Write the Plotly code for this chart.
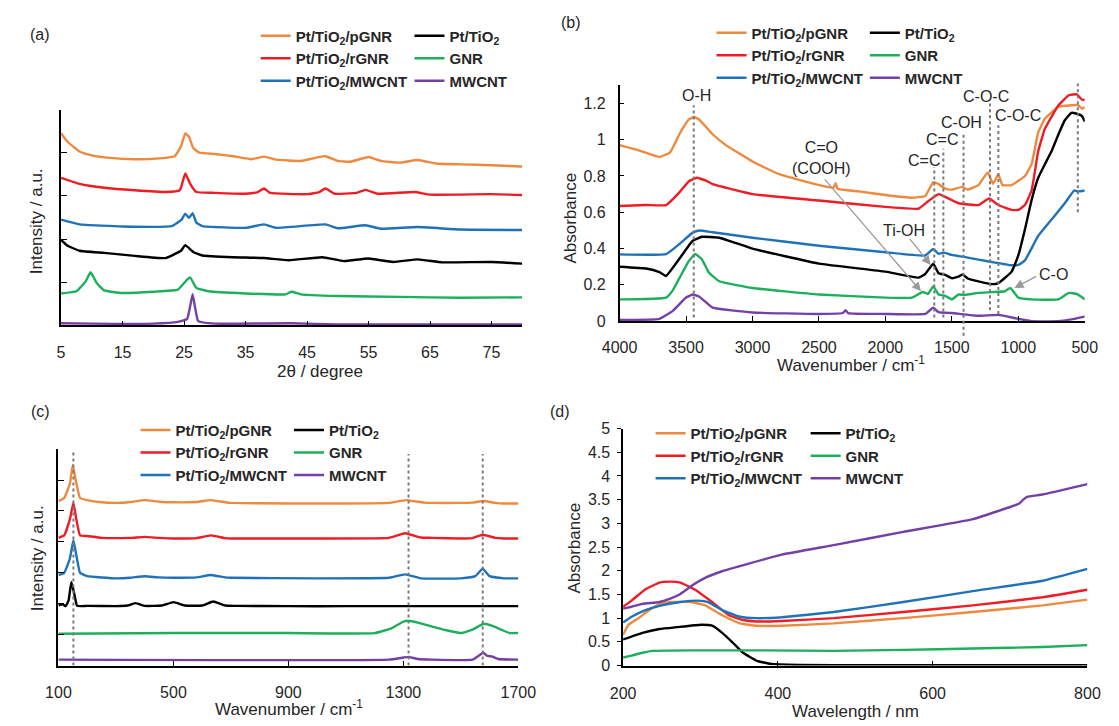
import plotly.graph_objects as go

W, H = 1119, 726
FONT = "Liberation Sans, Arial, sans-serif"
TXT = "#262626"

C_PGNR = "#EE8A3F"
C_RGNR = "#EE1C24"
C_MW = "#1F72B8"
C_TIO2 = "#000000"
C_GNR = "#1DAF5B"
C_MWCNT = "#7440A6"

N_PGNR = "Pt/TiO<sub>2</sub>/pGNR"
N_RGNR = "Pt/TiO<sub>2</sub>/rGNR"
N_MW = "Pt/TiO<sub>2</sub>/MWCNT"
N_TIO2 = "Pt/TiO<sub>2</sub>"
N_GNR = "GNR"
N_MWCNT = "MWCNT"

# ---------------- (a) XRD ----------------
A_PGNR_X = [5, 6, 8, 10, 13, 17, 21, 23.5, 24.5, 25.2, 25.8, 26.5, 27.5, 30, 33, 36, 38, 40, 44, 46, 48, 50, 52, 55, 57, 60, 63, 66, 70, 75, 80]
A_PGNR_Y = [4.45, 4.26, 4.03, 3.94, 3.88, 3.85, 3.87, 3.92, 4.15, 4.45, 4.37, 4.11, 4.0, 3.97, 3.92, 3.85, 3.91, 3.84, 3.81, 3.87, 3.92, 3.81, 3.79, 3.90, 3.81, 3.77, 3.83, 3.75, 3.73, 3.71, 3.68]
A_RGNR_X = [5, 8, 12, 17, 22, 24.3, 25.2, 26, 27, 30, 35, 37, 38, 39, 45, 47, 48, 49.5, 53, 54.5, 56.5, 62.5, 65, 75, 80]
A_RGNR_Y = [3.42, 3.28, 3.19, 3.13, 3.09, 3.13, 3.52, 3.28, 3.09, 3.07, 3.05, 3.09, 3.17, 3.07, 3.04, 3.09, 3.17, 3.05, 3.07, 3.14, 3.05, 3.09, 3.03, 3.04, 3.02]
A_MW_X = [5, 8, 15, 23, 24.6, 25.2, 25.8, 26.4, 27, 28, 35, 38, 40, 48, 50, 54.5, 57, 63, 70, 80]
A_MW_Y = [2.45, 2.34, 2.29, 2.30, 2.45, 2.59, 2.49, 2.60, 2.38, 2.30, 2.26, 2.34, 2.26, 2.34, 2.25, 2.32, 2.24, 2.28, 2.22, 2.21]
A_TIO2_X = [5, 6, 8, 12, 17, 22, 24.5, 25.2, 26.5, 28, 33, 38, 42, 47.5, 51, 55, 59, 63, 67, 75, 80]
A_TIO2_Y = [1.98, 1.85, 1.73, 1.68, 1.61, 1.56, 1.73, 1.86, 1.70, 1.62, 1.58, 1.56, 1.51, 1.58, 1.49, 1.55, 1.47, 1.53, 1.46, 1.47, 1.43]
A_GNR_X = [5, 7.5, 9, 9.8, 10.8, 12, 15, 20, 24, 25.5, 26, 27, 29, 35, 41.5, 42.5, 44, 50, 60, 70, 80]
A_GNR_Y = [0.74, 0.79, 1.02, 1.23, 0.98, 0.81, 0.75, 0.78, 0.83, 1.06, 1.11, 0.87, 0.79, 0.74, 0.72, 0.78, 0.72, 0.68, 0.66, 0.64, 0.65]
A_MWCNT_X = [5, 10, 20, 24, 25.5, 26, 26.4, 26.8, 27.3, 30, 42.5, 50, 80]
A_MWCNT_Y = [0.05, 0.04, 0.04, 0.08, 0.15, 0.45, 0.72, 0.41, 0.10, 0.04, 0.05, 0.02, 0.02]
A_XTICKS = [5, 15, 25, 35, 45, 55, 65, 75]

# ---------------- (b) FT-IR ----------------
B_PGNR_X = [4000, 3850, 3700, 3620, 3550, 3480, 3440, 3400, 3300, 3200, 3000, 2800, 2500, 2390, 2375, 2360, 2200, 2000, 1800, 1700, 1640, 1600, 1550, 1500, 1420, 1380, 1300, 1230, 1190, 1150, 1120, 1050, 950, 900, 850, 800, 700, 600, 550, 520, 500]
B_PGNR_Y = [0.97, 0.94, 0.905, 0.93, 1.03, 1.11, 1.125, 1.11, 1.03, 0.97, 0.88, 0.81, 0.75, 0.735, 0.76, 0.73, 0.715, 0.695, 0.68, 0.69, 0.766, 0.755, 0.73, 0.725, 0.74, 0.725, 0.75, 0.82, 0.757, 0.81, 0.75, 0.75, 0.80, 0.865, 1.04, 1.115, 1.18, 1.19, 1.19, 1.17, 1.18]
B_RGNR_X = [4000, 3800, 3650, 3550, 3480, 3420, 3350, 3300, 3000, 2500, 2000, 1750, 1680, 1600, 1550, 1450, 1300, 1220, 1150, 1050, 1000, 950, 900, 850, 800, 700, 620, 560, 520, 500]
B_RGNR_Y = [0.635, 0.64, 0.64, 0.71, 0.77, 0.79, 0.775, 0.755, 0.70, 0.665, 0.63, 0.62, 0.66, 0.70, 0.685, 0.65, 0.64, 0.676, 0.64, 0.613, 0.613, 0.64, 0.72, 0.936, 1.06, 1.187, 1.245, 1.25, 1.22, 1.22]
B_MW_X = [4000, 3650, 3550, 3450, 3400, 3300, 3000, 2500, 2000, 1700, 1640, 1600, 1560, 1500, 1400, 1200, 1050, 1000, 950, 850, 750, 650, 580, 550, 500]
B_MW_Y = [0.368, 0.37, 0.425, 0.488, 0.50, 0.49, 0.46, 0.416, 0.38, 0.362, 0.398, 0.371, 0.378, 0.365, 0.353, 0.326, 0.308, 0.31, 0.335, 0.47, 0.56, 0.65, 0.72, 0.715, 0.72]
B_TIO2_X = [4000, 3800, 3700, 3650, 3550, 3450, 3380, 3250, 3000, 2500, 2000, 1750, 1700, 1640, 1600, 1550, 1500, 1450, 1420, 1380, 1300, 1200, 1150, 1050, 1000, 950, 900, 850, 800, 750, 700, 650, 600, 560, 520, 500]
B_TIO2_Y = [0.30, 0.29, 0.27, 0.25, 0.344, 0.443, 0.465, 0.46, 0.40, 0.317, 0.273, 0.24, 0.26, 0.317, 0.264, 0.255, 0.237, 0.245, 0.258, 0.235, 0.219, 0.204, 0.21, 0.273, 0.362, 0.506, 0.667, 0.79, 0.865, 0.936, 1.026, 1.107, 1.148, 1.143, 1.13, 1.10]
B_GNR_X = [4000, 3650, 3600, 3550, 3480, 3430, 3380, 3330, 3250, 3000, 2500, 2000, 1800, 1720, 1680, 1640, 1600, 1550, 1500, 1450, 1400, 1300, 1200, 1100, 1060, 1000, 900, 700, 620, 560, 500]
B_GNR_Y = [0.12, 0.13, 0.17, 0.237, 0.33, 0.37, 0.34, 0.27, 0.22, 0.183, 0.147, 0.13, 0.13, 0.161, 0.15, 0.192, 0.147, 0.14, 0.12, 0.147, 0.145, 0.156, 0.16, 0.165, 0.183, 0.13, 0.12, 0.12, 0.156, 0.15, 0.12]
B_MWCNT_X = [4000, 3700, 3600, 3500, 3450, 3400, 3300, 3000, 2500, 2320, 2300, 2280, 2000, 1700, 1640, 1600, 1500, 1300, 1150, 1000, 900, 700, 600, 500]
B_MWCNT_Y = [0.007, 0.013, 0.057, 0.13, 0.147, 0.135, 0.075, 0.048, 0.04, 0.045, 0.06, 0.045, 0.04, 0.04, 0.075, 0.05, 0.045, 0.03, 0.035, 0.013, 0.0, 0.0, 0.01, 0.025]
# band markers: (position, top, bottom)
B_BAND_X = [3442, 1632, 1564, 1412, 1213, 1150, 552]
B_BAND_TOP = [1.19, 0.85, 0.95, 1.04, 1.20, 1.08, 1.31]
B_BAND_BOT = [0.02, 0.02, 0.02, -0.08, 0.06, 0.04, 0.60]
B_LABELS = ["O-H", "C=O<br>(COOH)", "C=C", "C=C", "C-OH", "C-O-C", "C-O-C", "Ti-O-Ti", "Ti-OH", "C-O"]
B_LABEL_X = [3423, 2479, 1711, 1575, 1430, 1242, 1003, 657, 1863, 736]
B_LABEL_Y = [1.245, 0.90, 0.883, 0.999, 1.094, 1.238, 1.134, 1.37, 0.50, 0.258]
# arrows: tail (x, y) -> head (x, y)
B_ARROW_TAIL_X = [2466, 1824, 854]
B_ARROW_TAIL_Y = [0.79, 0.46, 0.251]
B_ARROW_HEAD_X = [1732, 1659, 1029]
B_ARROW_HEAD_Y = [0.165, 0.31, 0.183]

# ---------------- (c) Raman ----------------
C_PGNR_X = [100, 120, 140, 150, 160, 175, 200, 250, 300, 350, 400, 450, 500, 580, 630, 680, 700, 900, 1100, 1250, 1310, 1370, 1400, 1500, 1540, 1580, 1620, 1650, 1700]
C_PGNR_Y = [5.32, 5.42, 5.89, 6.5, 6.0, 5.42, 5.35, 5.28, 5.26, 5.29, 5.35, 5.30, 5.28, 5.29, 5.35, 5.28, 5.26, 5.24, 5.24, 5.26, 5.35, 5.27, 5.26, 5.26, 5.27, 5.32, 5.26, 5.24, 5.24]
C_RGNR_X = [100, 120, 140, 152, 162, 175, 200, 250, 350, 400, 450, 500, 580, 630, 680, 700, 1000, 1250, 1306, 1360, 1400, 1500, 1540, 1576, 1620, 1650, 1700]
C_RGNR_Y = [4.13, 4.21, 4.74, 5.26, 4.74, 4.21, 4.19, 4.13, 4.13, 4.16, 4.13, 4.11, 4.12, 4.21, 4.12, 4.11, 4.11, 4.13, 4.28, 4.14, 4.13, 4.11, 4.12, 4.23, 4.13, 4.11, 4.11]
C_MW_X = [100, 120, 140, 152, 162, 175, 200, 300, 350, 400, 450, 500, 580, 630, 680, 700, 1000, 1250, 1306, 1360, 1500, 1550, 1576, 1600, 1650, 1700]
C_MW_Y = [2.93, 3.0, 3.47, 4.05, 3.58, 3.0, 2.89, 2.82, 2.84, 2.89, 2.85, 2.84, 2.85, 2.93, 2.85, 2.84, 2.82, 2.84, 2.95, 2.82, 2.82, 2.89, 3.13, 2.89, 2.82, 2.82]
C_TIO2_X = [100, 115, 125, 135, 145, 155, 165, 200, 300, 340, 368, 400, 460, 500, 540, 600, 638, 680, 720, 900, 1100, 1300, 1500, 1700]
C_TIO2_Y = [1.95, 1.98, 1.92, 2.1, 2.7, 2.32, 1.93, 1.93, 1.92, 1.94, 2.02, 1.93, 1.94, 2.05, 1.94, 1.94, 2.07, 1.94, 1.93, 1.92, 1.92, 1.92, 1.92, 1.92]
C_GNR_X = [100, 500, 900, 1200, 1260, 1300, 1318, 1350, 1400, 1450, 1500, 1540, 1580, 1610, 1640, 1670, 1700]
C_GNR_Y = [1.03, 1.05, 1.05, 1.05, 1.21, 1.42, 1.45, 1.39, 1.26, 1.14, 1.05, 1.16, 1.35, 1.28, 1.16, 1.05, 1.05]
C_MWCNT_X = [100, 1250, 1300, 1318, 1350, 1400, 1540, 1570, 1578, 1590, 1610, 1630, 1700]
C_MWCNT_Y = [0.19, 0.19, 0.26, 0.28, 0.21, 0.19, 0.19, 0.37, 0.42, 0.32, 0.29, 0.21, 0.19]
C_BAND_X = [152, 1318, 1576]
C_BAND_TOP = [6.97, 6.84, 6.84]
C_LABELS = ["TiO<sub>2</sub>", "D", "G"]
C_LABEL_X = [158, 1315, 1588]
C_LABEL_Y = [7.35, 7.19, 7.19]

# ---------------- (d) UV-vis ----------------
D_PGNR_X = [200, 207, 220, 234, 247, 261, 288, 306, 328, 351, 373, 405, 472, 562, 652, 742, 800]
D_PGNR_Y = [0.65, 0.86, 1.0, 1.17, 1.29, 1.34, 1.34, 1.27, 1.06, 0.89, 0.84, 0.84, 0.89, 1.0, 1.13, 1.27, 1.39]
D_RGNR_X = [200, 211, 229, 247, 261, 274, 292, 315, 337, 355, 373, 405, 472, 562, 652, 742, 800]
D_RGNR_Y = [1.24, 1.37, 1.61, 1.75, 1.77, 1.75, 1.61, 1.34, 1.06, 0.96, 0.93, 0.94, 1.0, 1.13, 1.27, 1.44, 1.6]
D_MW_X = [200, 211, 229, 247, 274, 297, 310, 328, 351, 373, 405, 472, 562, 652, 742, 800]
D_MW_Y = [0.91, 1.03, 1.17, 1.26, 1.34, 1.37, 1.34, 1.17, 1.03, 1.0, 1.02, 1.13, 1.34, 1.57, 1.79, 2.04]
D_TIO2_X = [200, 225, 247, 270, 301, 315, 328, 342, 355, 373, 391, 427, 517, 800]
D_TIO2_Y = [0.55, 0.69, 0.77, 0.81, 0.86, 0.84, 0.69, 0.48, 0.27, 0.10, 0.034, 0.014, 0.005, 0.005]
D_GNR_X = [200, 211, 225, 238, 292, 382, 472, 562, 652, 742, 800]
D_GNR_Y = [0.17, 0.21, 0.27, 0.31, 0.32, 0.32, 0.31, 0.33, 0.36, 0.39, 0.43]
D_MWCNT_X = [200, 211, 225, 247, 261, 274, 292, 306, 328, 360, 405, 472, 562, 652, 712, 717, 722, 742, 800]
D_MWCNT_Y = [1.2, 1.24, 1.3, 1.34, 1.41, 1.51, 1.72, 1.85, 1.99, 2.14, 2.34, 2.54, 2.82, 3.09, 3.42, 3.5, 3.56, 3.61, 3.83]

# ---------------- layout geometry (pixels) ----------------
PANEL_BOX = {  # left, right, top, bottom in pixels
    "a": (44.5, 521.0, 104.0, 325.0),
    "b": (621.6, 1102.2, 79.1, 320.7),
    "c": (41.8, 517.0, 451.7, 673.3),
    "d": (625.2, 1105.0, 430.7, 673.3),
}


def xdom(k):
    l, r, t, b = PANEL_BOX[k]
    return [l / W, r / W]


def ydom(k):
    l, r, t, b = PANEL_BOX[k]
    return [1 - b / H, 1 - t / H]


fig = go.Figure()

panels = [
    ("x", "y", "legend", "legend2",
     [(A_PGNR_X, A_PGNR_Y, C_PGNR, N_PGNR, 1), (A_RGNR_X, A_RGNR_Y, C_RGNR, N_RGNR, 1), (A_MW_X, A_MW_Y, C_MW, N_MW, 1),
      (A_TIO2_X, A_TIO2_Y, C_TIO2, N_TIO2, 2), (A_GNR_X, A_GNR_Y, C_GNR, N_GNR, 2), (A_MWCNT_X, A_MWCNT_Y, C_MWCNT, N_MWCNT, 2)]),
    ("x2", "y2", "legend3", "legend4",
     [(B_PGNR_X, B_PGNR_Y, C_PGNR, N_PGNR, 1), (B_RGNR_X, B_RGNR_Y, C_RGNR, N_RGNR, 1), (B_MW_X, B_MW_Y, C_MW, N_MW, 1),
      (B_TIO2_X, B_TIO2_Y, C_TIO2, N_TIO2, 2), (B_GNR_X, B_GNR_Y, C_GNR, N_GNR, 2), (B_MWCNT_X, B_MWCNT_Y, C_MWCNT, N_MWCNT, 2)]),
    ("x3", "y3", "legend5", "legend6",
     [(C_PGNR_X, C_PGNR_Y, C_PGNR, N_PGNR, 1), (C_RGNR_X, C_RGNR_Y, C_RGNR, N_RGNR, 1), (C_MW_X, C_MW_Y, C_MW, N_MW, 1),
      (C_TIO2_X, C_TIO2_Y, C_TIO2, N_TIO2, 2), (C_GNR_X, C_GNR_Y, C_GNR, N_GNR, 2), (C_MWCNT_X, C_MWCNT_Y, C_MWCNT, N_MWCNT, 2)]),
    ("x4", "y4", "legend7", "legend8",
     [(D_PGNR_X, D_PGNR_Y, C_PGNR, N_PGNR, 1), (D_RGNR_X, D_RGNR_Y, C_RGNR, N_RGNR, 1), (D_MW_X, D_MW_Y, C_MW, N_MW, 1),
      (D_TIO2_X, D_TIO2_Y, C_TIO2, N_TIO2, 2), (D_GNR_X, D_GNR_Y, C_GNR, N_GNR, 2), (D_MWCNT_X, D_MWCNT_Y, C_MWCNT, N_MWCNT, 2)]),
]

for xa, ya, lg1, lg2, series in panels:
    for xs, ys, col, name, colno in series:
        fig.add_trace(go.Scatter(
            x=xs, y=ys, mode="lines", name=name,
            line=dict(color=col, width=2.4, shape="spline", smoothing=0.35),
            xaxis=xa, yaxis=ya, legend=lg1 if colno == 1 else lg2,
            showlegend=True, hoverinfo="x+y+name"))


def axis_common(**kw):
    d = dict(showline=True, linecolor="black", linewidth=1.5, showgrid=False, zeroline=False,
             ticklen=5, tickwidth=1.2, tickcolor="black",
             tickfont=dict(family=FONT, size=16, color=TXT), fixedrange=True)
    d.update(kw)
    return d


layout = dict(
    width=W, height=H, margin=dict(l=0, r=0, t=0, b=0),
    paper_bgcolor="white", plot_bgcolor="white",
    font=dict(family=FONT, size=15, color=TXT),
    xaxis=axis_common(domain=xdom("a"), anchor="y", range=[5, 80], tickmode="array", tickvals=A_XTICKS,
                      ticks="inside", ticklabelstandoff=12),
    yaxis=axis_common(domain=ydom("a"), anchor="x", range=[0, 5], dtick=1, tick0=0, ticks="inside",
                      showticklabels=False, ticklen=6),
    xaxis2=axis_common(domain=xdom("b"), anchor="y2", range=[4000, 500], dtick=500, tick0=500,
                       ticks="inside", ticklabelstandoff=11),
    yaxis2=axis_common(domain=ydom("b"), anchor="x2", range=[0, 1.3], dtick=0.2, tick0=0,
                       ticks="inside", ticklabelstandoff=9),
    xaxis3=axis_common(domain=xdom("c"), anchor="y3", range=[100, 1700], dtick=400, tick0=100,
                       ticks="inside", ticklabelstandoff=12),
    yaxis3=axis_common(domain=ydom("c"), anchor="x3", range=[0, 7], dtick=1, tick0=0, ticks="inside",
                       showticklabels=False, ticklen=6),
    xaxis4=axis_common(domain=xdom("d"), anchor="y4", range=[200, 800], dtick=200, tick0=200,
                       ticks="inside", ticklabelstandoff=13),
    yaxis4=axis_common(domain=ydom("d"), anchor="x4", range=[0, 5], dtick=0.5, tick0=0,
                       ticks="outside", ticklen=4, ticklabelstandoff=4),
)

# legends: (text-left px, first-row centre px)
LEG_POS = {
    "legend": (285.6, 28.0), "legend2": (444.5, 28.0),
    "legend3": (756.6, 25.0), "legend4": (915.0, 25.0),
    "legend5": (161.4, 431.7), "legend6": (320.0, 431.7),
    "legend7": (693.6, 435.0), "legend8": (853.8, 435.0),
}
for lg, (tx, ry) in LEG_POS.items():
    layout[lg] = dict(x=(tx - 40) / W, y=1 - (ry - 16.25) / H, xanchor="left", yanchor="top",
                      bgcolor="rgba(0,0,0,0)", borderwidth=0, orientation="v",
                      font=dict(family=FONT, size=15, color=TXT, weight="bold"),
                      traceorder="normal", itemclick=False, itemdoubleclick=False)

fig.update_layout(**layout)


def y_to_paper(k, val, rng):
    d0, d1 = ydom(k)
    return d0 + (val - rng[0]) / (rng[1] - rng[0]) * (d1 - d0)


shapes = []
DOT = dict(color="#7a7a7a", width=2, dash="dot")
for bx, bt, bb in zip(B_BAND_X, B_BAND_TOP, B_BAND_BOT):
    shapes.append(dict(type="line", xref="x2", yref="paper", x0=bx, x1=bx,
                       y0=y_to_paper("b", bb, [0, 1.3]), y1=y_to_paper("b", bt, [0, 1.3]), line=DOT))
for bx, bt in zip(C_BAND_X, C_BAND_TOP):
    shapes.append(dict(type="line", xref="x3", yref="y3", x0=bx, x1=bx, y0=0, y1=bt, line=DOT))
fig.update_layout(shapes=shapes)

ann = []
LBL = dict(family=FONT, size=16, color=TXT)
for t, lx, ly in zip(B_LABELS, B_LABEL_X, B_LABEL_Y):
    ann.append(dict(text=t, x=lx, y=ly, xref="x2", yref="y2", showarrow=False, font=LBL,
                    xanchor="center", yanchor="middle"))
for tx, ty, hx, hy in zip(B_ARROW_TAIL_X, B_ARROW_TAIL_Y, B_ARROW_HEAD_X, B_ARROW_HEAD_Y):
    ann.append(dict(text="", x=hx, y=hy, ax=tx, ay=ty, xref="x2", yref="y2", axref="x2", ayref="y2",
                    showarrow=True, arrowhead=2, arrowsize=1.4, arrowwidth=1.3, arrowcolor="#9a9a9a",
                    standoff=0, startstandoff=0, font=dict(family=FONT, size=12)))
for t, lx, ly in zip(C_LABELS, C_LABEL_X, C_LABEL_Y):
    ann.append(dict(text=t, x=lx, y=ly, xref="x3", yref="y3", showarrow=False, font=LBL,
                    xanchor="center", yanchor="middle"))

# panel letters and axis titles (pixel positions)
PAPER_TEXT = [
    ("(a)", 23, 27, 0), ("(b)", 571, 15, 0), ("(c)", 23, 413, 0), ("(d)", 560, 413, 0),
    ("2θ / degree", 312, 372, 0), ("Wavenumber / cm<sup>-1</sup>", 861, 365, 0),
    ("Wavenumber / cm<sup>-1</sup>", 280, 717, 0), ("Wavelength / nm", 865, 720, 0),
    ("Intensity / a.u.", 20, 218, -90), ("Absorbance", 571, 215, -90),
    ("Intensity / a.u.", 20, 563, -90), ("Absorbance", 575, 553, -90),
]
for t, px, py, ang in PAPER_TEXT:
    ann.append(dict(text=t, x=px / W, y=1 - py / H, xref="paper", yref="paper", showarrow=False,
                    textangle=ang, font=dict(family=FONT, size=17 if t[0] != "(" else 16, color=TXT),
                    xanchor="center", yanchor="middle"))
fig.update_layout(annotations=ann)

fig.write_html("out.html")
